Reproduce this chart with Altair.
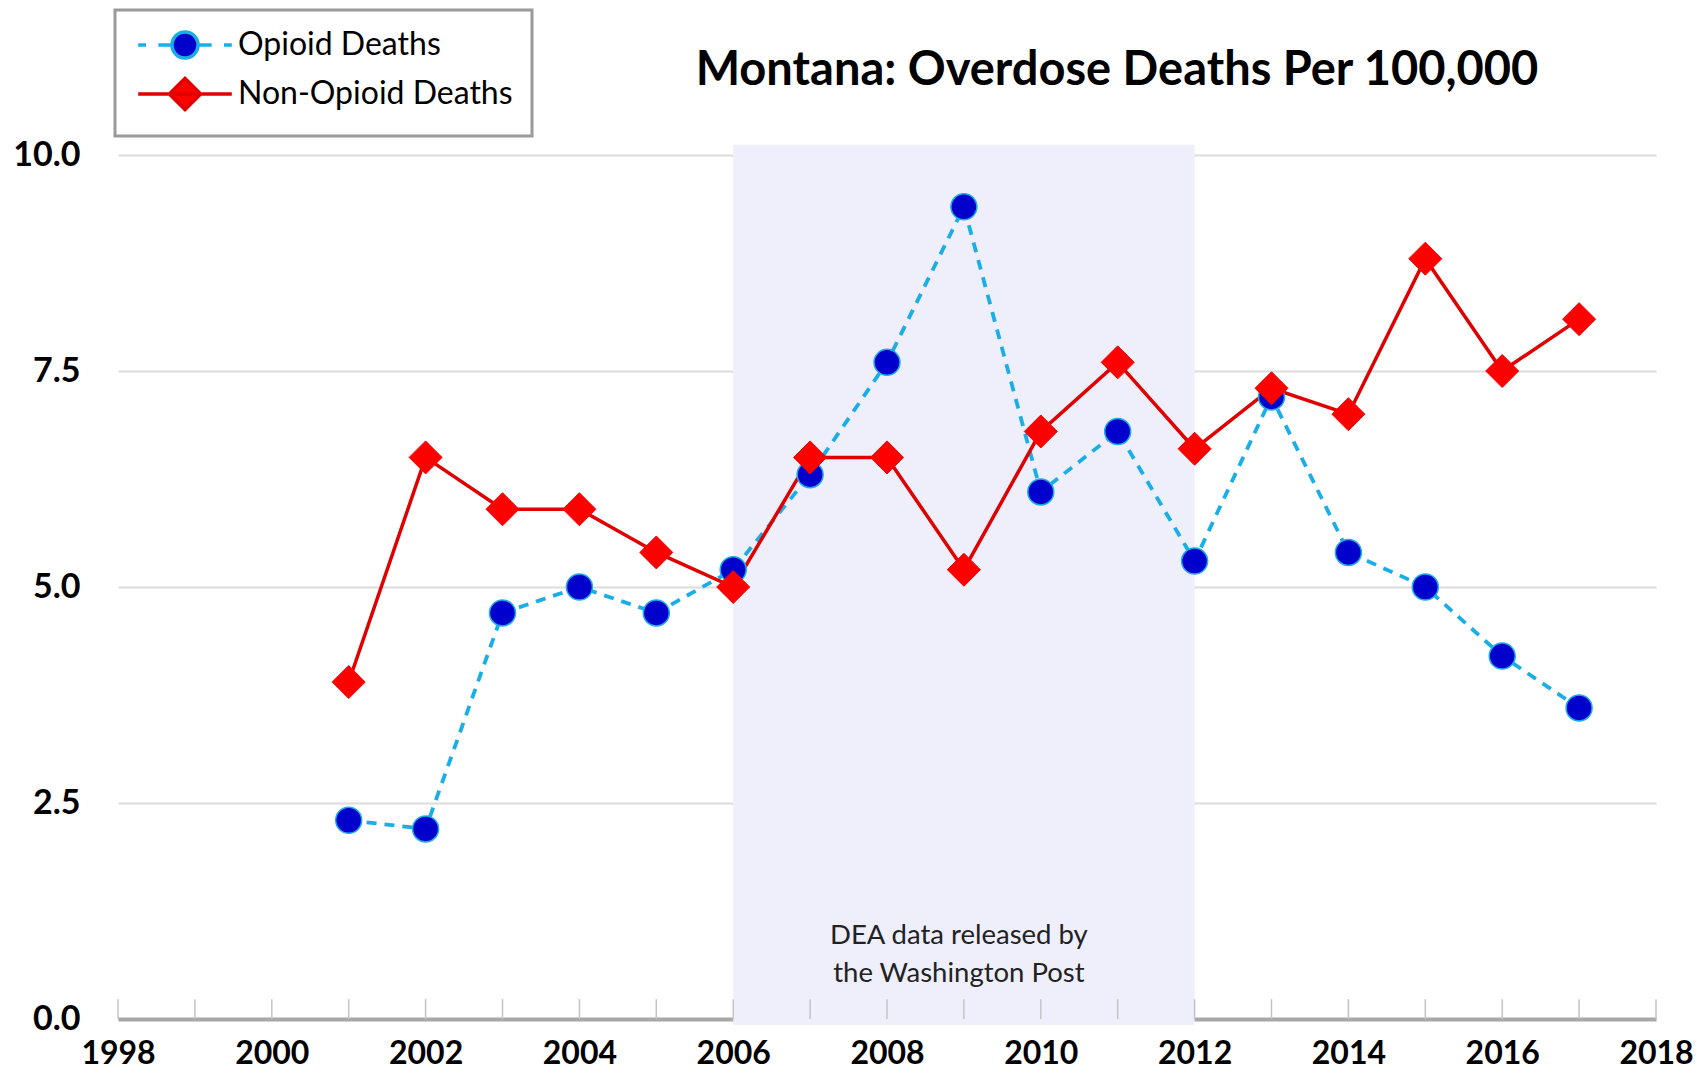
import altair as alt
import pandas as pd

years = list(range(2001, 2018))
opioid = [2.3, 2.2, 4.7, 5.0, 4.7, 5.2, 6.3, 7.6, 9.4, 6.1, 6.8, 5.3, 7.2, 5.4, 5.0, 4.2, 3.6]
non_opioid = [3.9, 6.5, 5.9, 5.9, 5.4, 5.0, 6.5, 6.5, 5.2, 6.8, 7.6, 6.6, 7.3, 7.0, 8.8, 7.5, 8.1]
series_names = ["Opioid Deaths", "Non-Opioid Deaths"]
tick_years = list(range(1998, 2019))
y_ticks = [0, 2.5, 5.0, 7.5, 10.0]
x_label_years = list(range(1998, 2019, 2))
shade_start, shade_end = 2006, 2012
note_lines = "DEA data released by\nthe Washington Post"
title_text = "Montana: Overdose Deaths Per 100,000"

df = pd.DataFrame({
    "year": years * 2,
    "value": opioid + non_opioid,
    "series": [series_names[0]] * len(years) + [series_names[1]] * len(years),
})
shade_df = pd.DataFrame({"x": [shade_start], "x2": [shade_end], "y": [-0.07], "y2": [10.12]})
ticks_df = pd.DataFrame({"year": tick_years, "y": [0] * len(tick_years), "y2": [0.23] * len(tick_years)})
note_df = pd.DataFrame({"x": [(shade_start + shade_end) / 2], "y": [0.96], "text": [note_lines]})

BLUE_LINE = "#1aaee8"
BLUE_DOT = "#0000cc"
RED_LINE = "#e00000"
RED_DOT = "#ff0000"
FONT = "Lato"

x_scale = alt.Scale(domain=[1998, 2018], nice=False, zero=False)
y_scale = alt.Scale(domain=[0, 10], nice=False)

x_axis = alt.Axis(values=x_label_years, format="d", title=None, grid=False, ticks=False,
                  domainColor="#a8a8a8", domainWidth=4, labelFont=FONT, labelFontSize=32,
                  labelFontWeight="bold", labelColor="black", labelPadding=19,
                  labelFlush=False, labelOverlap=False)
y_axis = alt.Axis(values=y_ticks, format=".1f", title=None, domain=False, ticks=False,
                  gridColor="#dcdcdc", gridWidth=2, labelFont=FONT, labelFontSize=34,
                  labelFontWeight="bold", labelColor="black", labelPadding=38)

shade = alt.Chart(shade_df).mark_rect(color="#efeffc").encode(
    x=alt.X("x:Q", scale=x_scale, axis=x_axis),
    x2="x2:Q",
    y=alt.Y("y:Q", scale=y_scale, axis=y_axis),
    y2="y2:Q",
)

year_ticks = alt.Chart(ticks_df).mark_rule(color="#c4c4c4", strokeWidth=1.5).encode(
    x=alt.X("year:Q", scale=x_scale),
    y=alt.Y("y:Q", scale=y_scale),
    y2="y2:Q",
)

note = alt.Chart(note_df).mark_text(font=FONT, fontSize=27.5, color="#222222", align="center",
                                    baseline="middle", lineBreak="\n", lineHeight=38, dx=-5).encode(
    x=alt.X("x:Q", scale=x_scale),
    y=alt.Y("y:Q", scale=y_scale),
    text="text:N",
)

base = alt.Chart(df).encode(x=alt.X("year:Q", scale=x_scale), y=alt.Y("value:Q", scale=y_scale))

op_line = base.transform_filter(alt.datum.series == series_names[0]).mark_line(
    color=BLUE_LINE, strokeWidth=3.8, strokeDash=[10, 8])
non_line = base.transform_filter(alt.datum.series == series_names[1]).mark_line(
    color=RED_LINE, strokeWidth=3.5)
op_pts = base.transform_filter(alt.datum.series == series_names[0]).mark_point(
    shape="circle", filled=True, fill=BLUE_DOT, stroke=BLUE_LINE, strokeWidth=1.5, size=676, opacity=1)
non_pts = base.transform_filter(alt.datum.series == series_names[1]).mark_point(
    shape="diamond", filled=True, fill=RED_DOT, stroke=RED_DOT, strokeWidth=1, size=1089, opacity=1)

op_symbol = "M-3.6,0H-3M-2.05,0H-1M1,0H2.05M3,0H3.6M1,0A1,1 0 1,1 -1,0A1,1 0 1,1 1,0Z"
non_symbol = "M-3.6,0H3.6M0,-1.2L1.2,0L0,1.2L-1.2,0Z"

legend = alt.Legend(title=None, orient="none", legendX=-3, legendY=-145, padding=19,
                    strokeColor="#9a9a9a", fillColor="white", labelFont=FONT, labelFontSize=32,
                    labelColor="black", labelLimit=500, symbolSize=676, symbolStrokeWidth=3.5,
                    symbolOffset=35, labelOffset=37, rowPadding=6)

legend_layer = base.transform_filter("false").mark_point(filled=True, opacity=1).encode(
    shape=alt.Shape("series:N", scale=alt.Scale(domain=series_names, range=[op_symbol, non_symbol]), legend=legend),
    fill=alt.Fill("series:N", scale=alt.Scale(domain=series_names, range=[BLUE_DOT, RED_DOT]), legend=legend),
    stroke=alt.Stroke("series:N", scale=alt.Scale(domain=series_names, range=[BLUE_LINE, RED_LINE]), legend=legend),
)

chart = alt.layer(shade, year_ticks, note, op_line, non_line, op_pts, non_pts, legend_layer).properties(
    width=1538, height=864,
    padding={"left": 110, "top": 147, "right": 43, "bottom": 51},
    autosize=alt.AutoSizeParams(type="none"),
    title=alt.TitleParams(text=title_text, anchor="middle", dx=230, dy=123, baseline="alphabetic",
                          font=FONT, fontSize=47, fontWeight="bold", color="black", offset=0),
).configure_view(stroke=None).configure_legend(strokeWidth=3)

chart.save("out.html", embed_options={"renderer": "svg", "actions": False})
